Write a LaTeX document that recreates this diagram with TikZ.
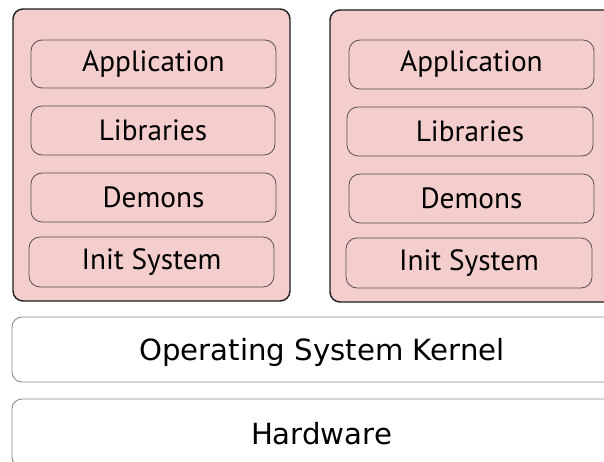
\documentclass[tikz,border=0pt]{standalone}
\usepackage{fontspec}
\setmainfont{DejaVu Sans}
\newfontfamily\ptsans{PT Sans}
\definecolor{pinkfill}{HTML}{F4CDCD}
\definecolor{outerline}{HTML}{1E1E1E}
\definecolor{innerline}{HTML}{5A5050}
\definecolor{baseline}{HTML}{8A8A8A}
\tikzset{
  container/.style={draw=outerline, line width=1.4pt, fill=pinkfill, rounded corners=10pt, inner sep=0pt},
  layer/.style={draw=innerline, line width=0.8pt, fill=pinkfill, rounded corners=11pt, inner sep=0pt,
     font=\ptsans\fontsize{29.3}{31}\selectfont, text=black},
  base/.style={draw=baseline, line width=0.9pt, fill=white, rounded corners=10pt, inner sep=0pt},
  basetext/.style={font=\fontsize{29.2}{31}\selectfont, anchor=base, text=black}
}
\begin{document}
\begin{tikzpicture}[x=1pt, y=-1pt]
\useasboundingbox (0,0) rectangle (604,462);
\clip (0,0) rectangle (604,462);
% containers
\node[container, minimum width=277pt, minimum height=292pt] (c1) at (151.5,155) {};
\node[container, minimum width=290pt, minimum height=292pt] (c2) at (475,156) {};
% left stack
\node[layer, minimum width=245pt, minimum height=48pt] (a1) at (153.5,64) {Application};
\node[layer, minimum width=244pt, minimum height=49pt] (l1) at (153,130.5) {Libraries};
\node[layer, minimum width=245pt, minimum height=49pt] (d1) at (153.5,197.5) {Demons};
\node[layer, minimum width=245pt, minimum height=50pt] (i1) at (151.5,262) {Init System};
% right stack
\node[layer, minimum width=245pt, minimum height=49pt] (a2) at (471.5,64.5) {Application};
\node[layer, minimum width=246pt, minimum height=49pt] (l2) at (470,131.5) {Libraries};
\node[layer, minimum width=245pt, minimum height=49pt] (d2) at (471.5,198.5) {Demons};
\node[layer, minimum width=246pt, minimum height=50pt] (i2) at (469,263) {Init System};
% base layers
\node[base, minimum width=608pt, minimum height=65pt] (k) at (316,349.5) {};
\node[base, minimum width=608pt, minimum height=68pt] (h) at (316,433) {};
\node[basetext] (kt) at (322,360.5) {Operating System Kernel};
\node[basetext] (ht) at (321.5,444.5) {Hardware};
\end{tikzpicture}
\end{document}
